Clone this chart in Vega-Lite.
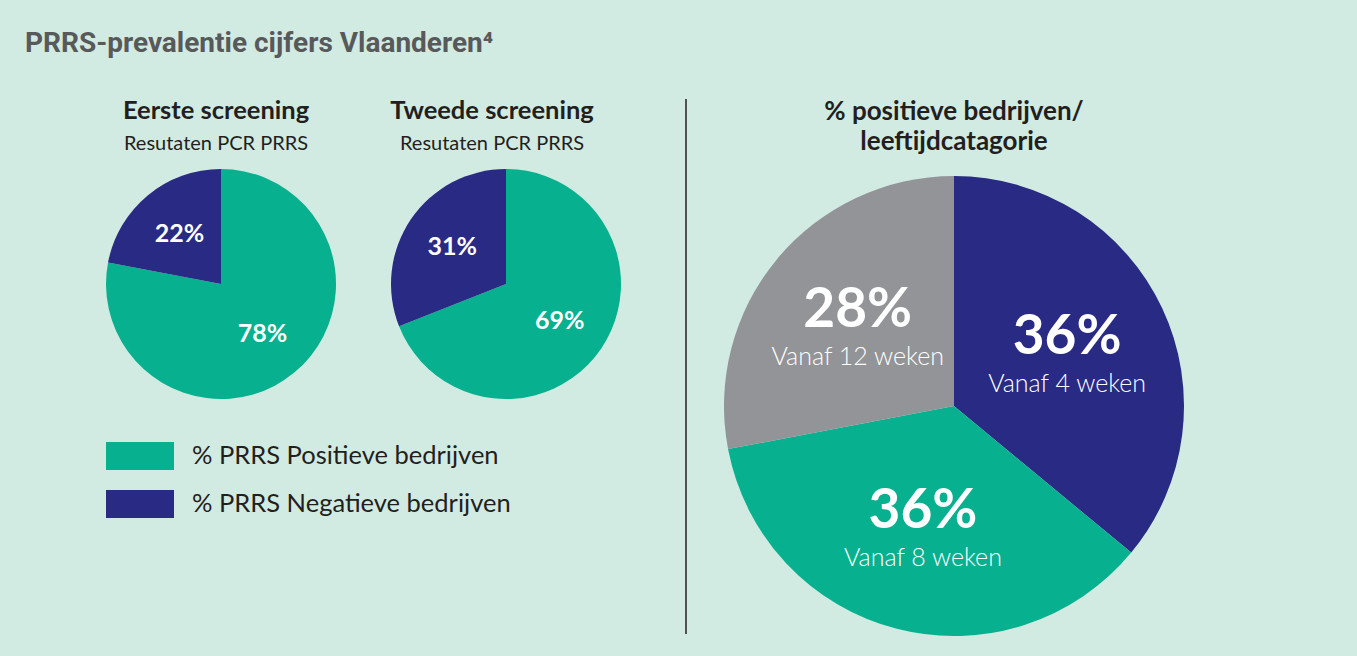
{
  "$schema": "https://vega.github.io/schema/vega-lite/v6.json",
  "background": "#d2ebe2",
  "padding": {"left": 25, "top": 30, "right": 175, "bottom": 21},
  "config": {"view": {"stroke": null}, "font": "Lato"},
  "title": {"text": "PRRS-prevalentie cijfers Vlaanderen⁴", "anchor": "start", "dx": -81, "offset": 40, "fontSize": 28, "font": "Roboto", "fontWeight": "bold", "color": "#58595b"},
  "datasets": {
    "titels": [
      {"kolom": "Eerste screening", "regel": "titel", "tekst": "Eerste screening"},
      {"kolom": "Eerste screening", "regel": "ondertitel", "tekst": "Resutaten PCR PRRS"},
      {"kolom": "Tweede screening", "regel": "titel", "tekst": "Tweede screening"},
      {"kolom": "Tweede screening", "regel": "ondertitel", "tekst": "Resutaten PCR PRRS"},
      {"kolom": "leeftijd", "regel": "titel", "tekst": "% positieve bedrijven/"},
      {"kolom": "leeftijd", "regel": "ondertitel", "tekst": "leeftijdcatagorie"}
    ],
    "screening": [
      {"screening": "Eerste screening", "status": "Positief", "pct": 0.78},
      {"screening": "Eerste screening", "status": "Negatief", "pct": 0.22},
      {"screening": "Tweede screening", "status": "Positief", "pct": 0.69},
      {"screening": "Tweede screening", "status": "Negatief", "pct": 0.31}
    ],
    "leeftijd": [
      {"categorie": "Vanaf 4 weken", "weken": 4, "pct": 0.36},
      {"categorie": "Vanaf 8 weken", "weken": 8, "pct": 0.36},
      {"categorie": "Vanaf 12 weken", "weken": 12, "pct": 0.28}
    ],
    "legenda": [
      {"status": "Positief", "label": "% PRRS Positieve bedrijven"},
      {"status": "Negatief", "label": "% PRRS Negatieve bedrijven"}
    ]
  },
  "resolve": {"scale": {"color": "independent"}},
  "spacing": 37,
  "hconcat": [
    {
      "spacing": 64,
      "hconcat": [
        {
          "spacing": 42,
          "vconcat": [
            {
              "spacing": 54,
              "hconcat": [
                {
                  "spacing": 15,
                  "vconcat": [
                    {
                      "width": 230, "height": 51,
                      "data": {"name": "titels"},
                      "transform": [{"filter": "datum.kolom === 'Eerste screening'"}],
                      "encoding": {"y": {"field": "regel", "type": "nominal", "axis": null, "scale": {"type": "point", "padding": 0, "domain": ["titel", "ondertitel"]}}, "text": {"field": "tekst"}},
                      "layer": [
                        {"transform": [{"filter": "datum.regel === 'titel'"}], "mark": {"type": "text", "baseline": "top", "dx": -5, "fontSize": 25.5, "fontWeight": "bold", "font": "Lato", "color": "#231f20"}},
                        {"transform": [{"filter": "datum.regel === 'ondertitel'"}], "mark": {"type": "text", "baseline": "alphabetic", "dx": -5, "fontSize": 20, "font": "Lato", "color": "#231f20"}}
                      ]
                    },
                    {
                      "width": 230, "height": 230,
                      "data": {"name": "screening"},
                      "transform": [{"filter": "datum.screening === 'Eerste screening'"}],
                      "encoding": {
                        "theta": {"field": "pct", "type": "quantitative", "stack": true},
                        "order": {"field": "status", "type": "ordinal", "sort": "descending"}
                      },
                      "layer": [
                        {"mark": {"type": "arc"}, "encoding": {"color": {"field": "status", "type": "nominal", "scale": {"domain": ["Positief", "Negatief"], "range": ["#07b08e", "#282a84"]}, "legend": null}}},
                        {"mark": {"type": "text", "radius": 65, "fontSize": 25, "fontWeight": "bold", "font": "Lato"}, "encoding": {"text": {"field": "pct", "format": ".0%"}, "detail": {"field": "status"}, "color": {"value": "white"}}}
                      ]
                    }
                  ]
                },
                {
                  "spacing": 15,
                  "vconcat": [
                    {
                      "width": 230, "height": 51,
                      "data": {"name": "titels"},
                      "transform": [{"filter": "datum.kolom === 'Tweede screening'"}],
                      "encoding": {"y": {"field": "regel", "type": "nominal", "axis": null, "scale": {"type": "point", "padding": 0, "domain": ["titel", "ondertitel"]}}, "text": {"field": "tekst"}},
                      "layer": [
                        {"transform": [{"filter": "datum.regel === 'titel'"}], "mark": {"type": "text", "baseline": "top", "dx": -14, "fontSize": 25.5, "fontWeight": "bold", "font": "Lato", "color": "#231f20"}},
                        {"transform": [{"filter": "datum.regel === 'ondertitel'"}], "mark": {"type": "text", "baseline": "alphabetic", "dx": -14, "fontSize": 20, "font": "Lato", "color": "#231f20"}}
                      ]
                    },
                    {
                      "width": 230, "height": 230,
                      "data": {"name": "screening"},
                      "transform": [{"filter": "datum.screening === 'Tweede screening'"}],
                      "encoding": {
                        "theta": {"field": "pct", "type": "quantitative", "stack": true},
                        "order": {"field": "status", "type": "ordinal", "sort": "descending"}
                      },
                      "layer": [
                        {"mark": {"type": "arc"}, "encoding": {"color": {"field": "status", "type": "nominal", "scale": {"domain": ["Positief", "Negatief"], "range": ["#07b08e", "#282a84"]}, "legend": null}}},
                        {"mark": {"type": "text", "radius": 65, "fontSize": 25, "fontWeight": "bold", "font": "Lato"}, "encoding": {"text": {"field": "pct", "format": ".0%"}, "detail": {"field": "status"}, "color": {"value": "white"}}}
                      ]
                    }
                  ]
                }
              ]
            },
            {
              "width": 68, "height": 76,
              "data": {"name": "legenda"},
              "encoding": {
                "y": {"field": "label", "type": "nominal", "sort": null, "axis": null, "scale": {"type": "point", "padding": 0.2917}}
              },
              "layer": [
                {"mark": {"type": "point", "shape": "M-1,-0.4118H1V0.4118H-1Z", "size": 4624, "filled": true, "opacity": 1, "strokeWidth": 0}, "encoding": {"color": {"field": "status", "type": "nominal", "scale": {"domain": ["Positief", "Negatief"], "range": ["#07b08e", "#282a84"]}, "legend": null}}},
                {"mark": {"type": "text", "align": "left", "baseline": "middle", "dx": 52, "fontSize": 25.5, "font": "Lato", "color": "#231f20"}, "encoding": {"text": {"field": "label"}}}
              ]
            }
          ]
        },
        {
          "width": 1, "height": 535,
          "data": {"values": [{}]},
          "mark": {"type": "rule", "color": "#231f20", "strokeWidth": 1.5},
          "encoding": {"x": {"value": 0}}
        }
      ]
    },
    {
      "spacing": 21,
      "vconcat": [
        {
          "width": 460, "height": 51,
          "data": {"name": "titels"},
          "transform": [{"filter": "datum.kolom === 'leeftijd'"}],
          "encoding": {"y": {"field": "regel", "type": "nominal", "axis": null, "scale": {"type": "point", "padding": 0, "domain": ["titel", "ondertitel"]}}, "text": {"field": "tekst"}},
          "layer": [
            {"transform": [{"filter": "datum.regel === 'titel'"}], "mark": {"type": "text", "baseline": "top", "fontSize": 26, "fontWeight": "bold", "font": "Lato", "color": "#231f20"}},
            {"transform": [{"filter": "datum.regel === 'ondertitel'"}], "mark": {"type": "text", "baseline": "alphabetic", "fontSize": 26, "fontWeight": "bold", "font": "Lato", "color": "#231f20"}}
          ]
        },
        {
          "width": 460, "height": 460,
          "data": {"name": "leeftijd"},
          "encoding": {
            "theta": {"field": "pct", "type": "quantitative", "stack": true},
            "order": {"field": "weken", "type": "quantitative", "sort": "ascending"}
          },
          "layer": [
            {"mark": {"type": "arc"}, "encoding": {"color": {"field": "categorie", "type": "nominal", "scale": {"domain": ["Vanaf 4 weken", "Vanaf 8 weken", "Vanaf 12 weken"], "range": ["#282a84", "#07b08e", "#939497"]}, "legend": null}}},
            {"mark": {"type": "text", "radius": 125, "dy": -16, "fontSize": 55, "fontWeight": "bold", "font": "Lato", "baseline": "middle"}, "encoding": {"text": {"field": "pct", "format": ".0%"}, "detail": {"field": "categorie"}, "color": {"value": "white"}}},
            {"mark": {"type": "text", "radius": 125, "dy": 31, "fontSize": 25, "fontWeight": 300, "font": "Lato", "baseline": "middle"}, "encoding": {"text": {"field": "categorie"}, "detail": {"field": "categorie"}, "color": {"value": "white"}}}
          ]
        }
      ]
    }
  ]
}
